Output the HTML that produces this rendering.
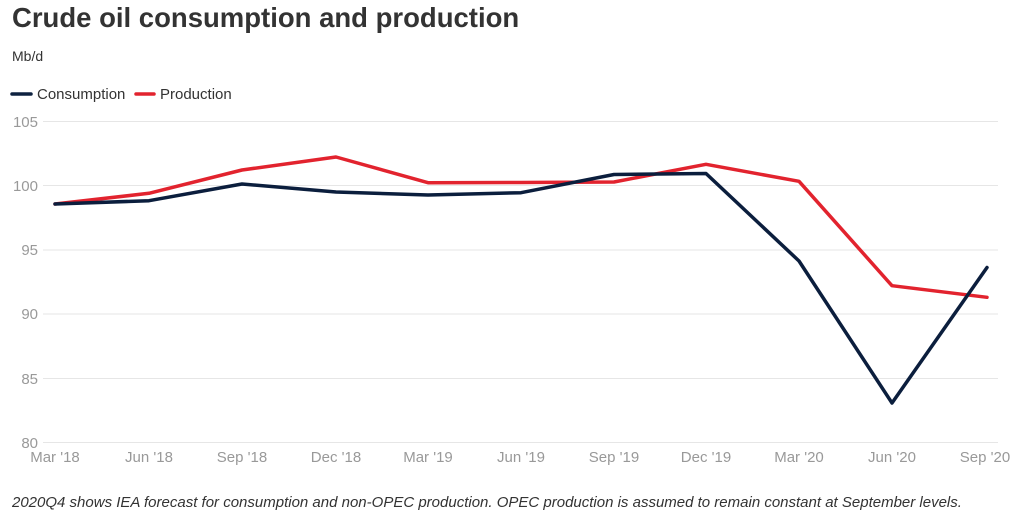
<!DOCTYPE html>
<html>
<head>
<meta charset="utf-8">
<style>
  html,body{margin:0;padding:0;background:#fff;}
  body{width:1013px;height:516px;overflow:hidden;font-family:"Liberation Sans",Arial,sans-serif;}
</style>
</head>
<body>
<svg width="1013" height="516" viewBox="0 0 1013 516" xmlns="http://www.w3.org/2000/svg" font-family="Liberation Sans, Arial, sans-serif">
  <text x="12" y="27" font-size="27.5" font-weight="bold" fill="#333">Crude oil consumption and production</text>
  <text x="12" y="61" font-size="14" fill="#333">Mb/d</text>
  <!-- legend -->
  <line x1="12" y1="94" x2="31" y2="94" stroke="#0e2240" stroke-width="3.5" stroke-linecap="round"/>
  <text x="37" y="99" font-size="15" fill="#333">Consumption</text>
  <line x1="136" y1="94" x2="154" y2="94" stroke="#e2232e" stroke-width="3.5" stroke-linecap="round"/>
  <text x="160" y="99" font-size="15" fill="#333">Production</text>
  <!-- grid -->
  <g stroke="#e6e6e6" stroke-width="1">
    <line x1="43" y1="121.5" x2="998" y2="121.5"/>
    <line x1="43" y1="185.5" x2="998" y2="185.5"/>
    <line x1="43" y1="250" x2="998" y2="250"/>
    <line x1="43" y1="314" x2="998" y2="314"/>
    <line x1="43" y1="378.5" x2="998" y2="378.5"/>
    <line x1="43" y1="442.5" x2="998" y2="442.5"/>
  </g>
  <g font-size="15" fill="#999" text-anchor="end">
    <text x="38" y="127">105</text>
    <text x="38" y="191">100</text>
    <text x="38" y="255">95</text>
    <text x="38" y="319">90</text>
    <text x="38" y="384">85</text>
    <text x="38" y="448">80</text>
  </g>
  <g font-size="15" fill="#999" text-anchor="middle">
    <text x="55" y="462">Mar '18</text>
    <text x="149" y="462">Jun '18</text>
    <text x="242" y="462">Sep '18</text>
    <text x="336" y="462">Dec '18</text>
    <text x="428" y="462">Mar '19</text>
    <text x="521" y="462">Jun '19</text>
    <text x="614" y="462">Sep '19</text>
    <text x="706" y="462">Dec '19</text>
    <text x="799" y="462">Mar '20</text>
    <text x="892" y="462">Jun '20</text>
    <text x="985" y="462">Sep '20</text>
  </g>
  <!-- series -->
  <polyline fill="none" stroke="#e2232e" stroke-width="3.5" stroke-linejoin="round" stroke-linecap="round"
    points="55,204 149,193.3 242,170 336,157 428,182.7 521,182.5 614,182 706,164.3 799,181.3 892,285.7 987,297.3"/>
  <polyline fill="none" stroke="#0b1e3d" stroke-width="3.5" stroke-linejoin="round" stroke-linecap="round"
    points="55,204 149,200.7 242,184 336,192 428,195 521,192.7 614,174.5 706,173.5 799,261 892,403 987,267.5"/>
  <text x="12" y="507" font-size="15" font-style="italic" fill="#333">2020Q4 shows IEA forecast for consumption and non-OPEC production. OPEC production is assumed to remain constant at September levels.</text>
</svg>
</body>
</html>
